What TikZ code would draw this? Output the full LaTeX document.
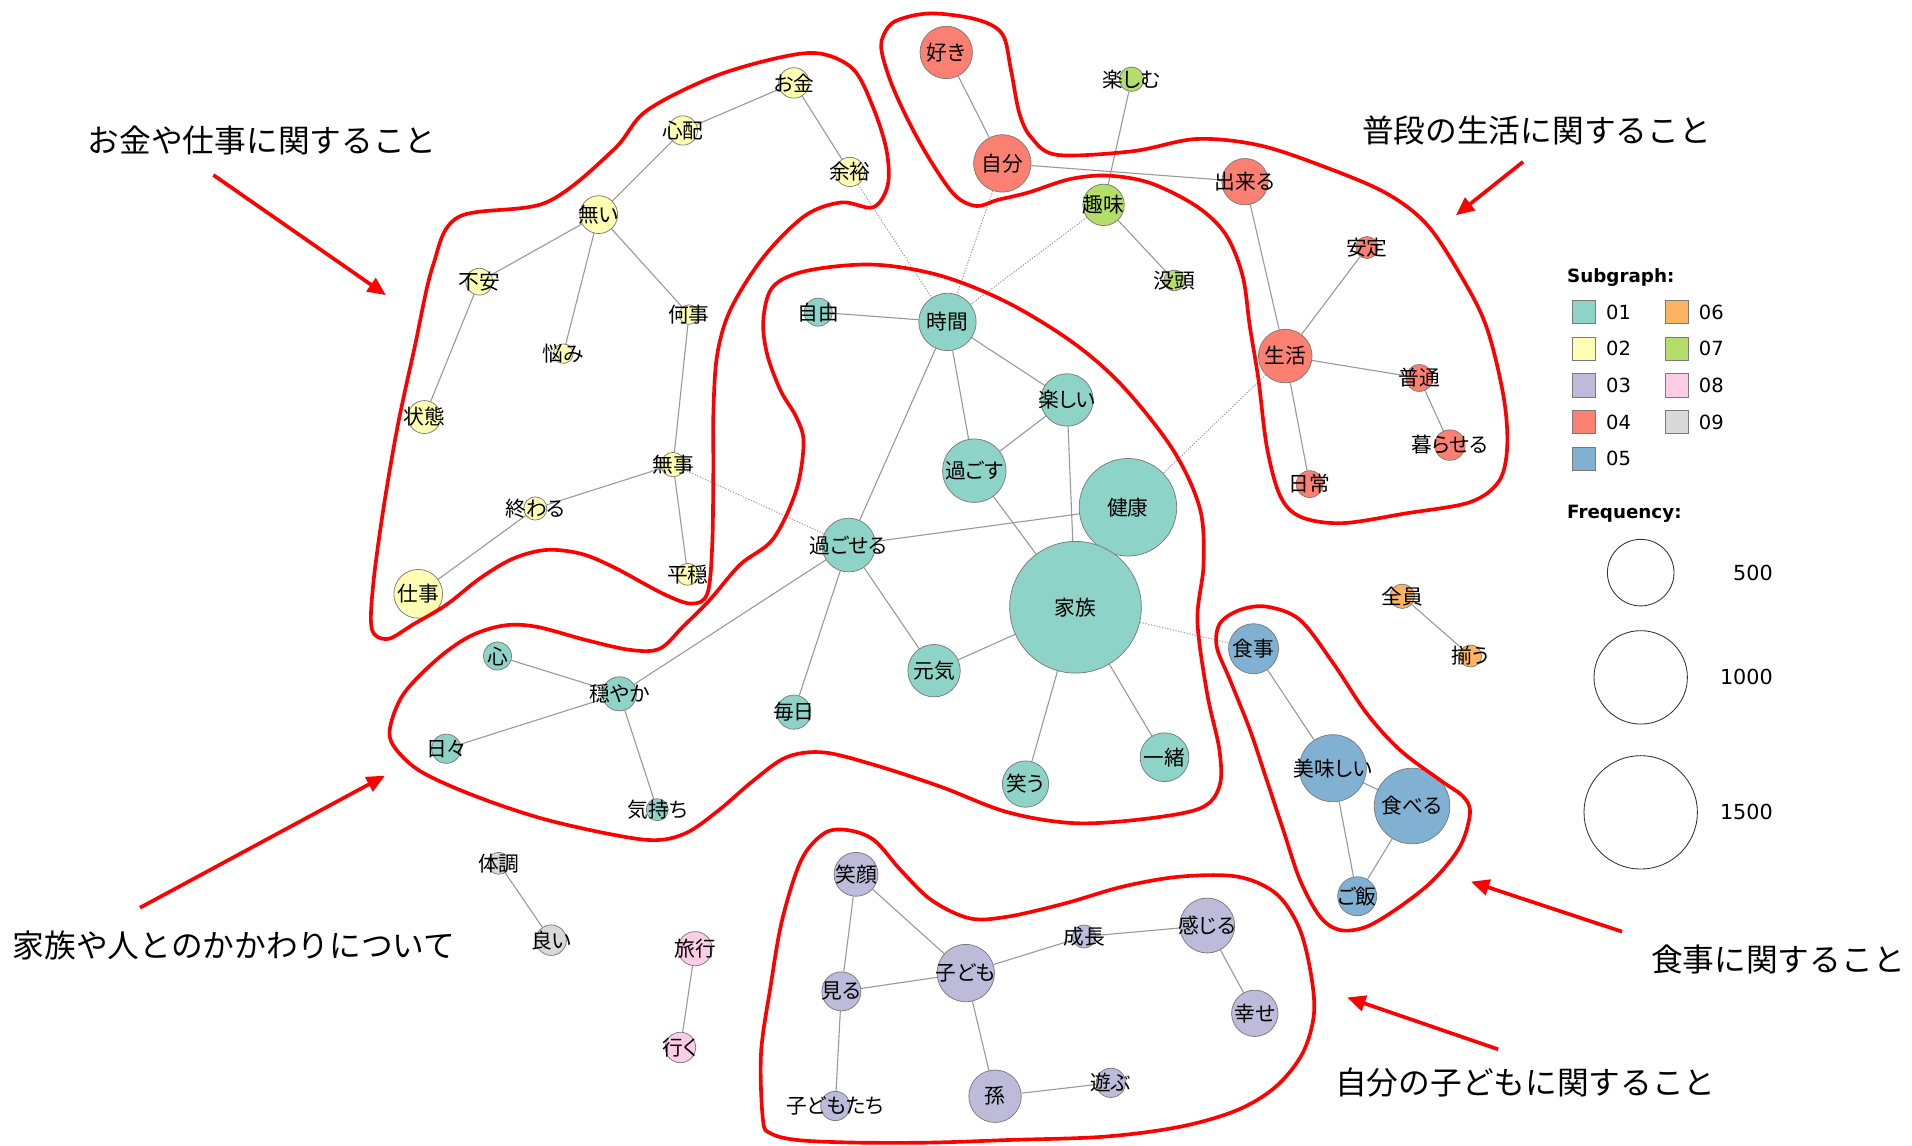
\documentclass[tikz,border=0pt]{standalone}
\usepackage{fontspec}
\setmainfont{Noto Sans CJK JP}
\newfontfamily\jpfont{Noto Sans CJK JP}
\newfontfamily\jplab[RawFeature=+palt]{Noto Sans CJK JP}
\newfontfamily\legfont{DejaVu Sans}
\usetikzlibrary{backgrounds,arrows.meta}
\definecolor{c01}{HTML}{8DD3C7}
\definecolor{c02}{HTML}{FFFFB3}
\definecolor{c03}{HTML}{BEBADA}
\definecolor{c04}{HTML}{FB8072}
\definecolor{c05}{HTML}{80B1D3}
\definecolor{c06}{HTML}{FDB462}
\definecolor{c07}{HTML}{B3DE69}
\definecolor{c08}{HTML}{FCCDE5}
\definecolor{c09}{HTML}{D9D9D9}
\definecolor{edgegray}{HTML}{999999}
\definecolor{rimgray}{HTML}{7A7A7A}
\definecolor{hred}{HTML}{FF0000}
\tikzset{
  kw/.style={circle, draw=rimgray, line width=0.6pt, inner sep=0pt},
  lb/.style={inner sep=0pt, text=black, font=\jplab\fontsize{17}{17}\selectfont},
  ed/.style={draw=edgegray, line width=0.9pt},
  dt/.style={draw=edgegray, line width=0.8pt, dash pattern=on 1pt off 1.3pt},
  blob/.style={draw=hred, line width=3pt, line join=round},
  arr/.style={draw=hred, line width=3pt, -{Triangle[length=15pt,width=13pt]}},
  anno/.style={inner sep=0pt, font=\jpfont\fontsize{26}{26}\selectfont},
  sq/.style={draw=rimgray, line width=0.6pt, minimum size=19pt, inner sep=0pt},
  lt/.style={inner sep=0pt, anchor=west, font=\legfont\fontsize{16}{16}\selectfont},
  lh/.style={inner sep=0pt, anchor=west, font=\legfont\bfseries\fontsize{15}{15}\selectfont},
  fq/.style={circle, draw=black!80, line width=0.7pt, inner sep=0pt},
  fn/.style={inner sep=0pt, anchor=east, font=\legfont\fontsize{17}{17}\selectfont}
}
\begin{document}
\begin{tikzpicture}[x=1pt,y=-1pt]
\useasboundingbox (0,0) rectangle (1568,939);
% ---------- nodes: 02 yellow
\node[kw,fill=c02,minimum size=25pt,label={[lb]center:お金}] (okane) at (651,68) {};
\node[kw,fill=c02,minimum size=24pt,label={[lb]center:心配}] (shinpai) at (560,107) {};
\node[kw,fill=c02,minimum size=24pt,label={[lb]center:余裕}] (yoyu) at (697,141) {};
\node[kw,fill=c02,minimum size=31pt,label={[lb]center:無い}] (nai) at (491,176) {};
\node[kw,fill=c02,minimum size=22pt,label={[lb]center:不安}] (fuan) at (393,231) {};
\node[kw,fill=c02,minimum size=16pt,label={[lb]center:悩み}] (nayami) at (462,290) {};
\node[kw,fill=c02,minimum size=16pt,label={[lb]center:何事}] (nanigoto) at (565,258) {};
\node[kw,fill=c02,minimum size=27pt,label={[lb]center:状態}] (jotai) at (348,342) {};
\node[kw,fill=c02,minimum size=20pt,label={[lb]center:無事}] (buji) at (552,381) {};
\node[kw,fill=c02,minimum size=19pt,label={[lb]center:終わる}] (owaru) at (439,417) {};
\node[kw,fill=c02,minimum size=18pt,label={[lb]center:平穏}] (heion) at (564,471) {};
\node[kw,fill=c02,minimum size=40pt,label={[lb]center:仕事}] (shigoto) at (343,487) {};
% ---------- 01 teal
\node[kw,fill=c01,minimum size=23pt,label={[lb]center:自由}] (jiyu) at (671,256) {};
\node[kw,fill=c01,minimum size=47pt,label={[lb]center:時間}] (jikan) at (777,264) {};
\node[kw,fill=c01,minimum size=43pt,label={[lb]center:楽しい}] (tanoshii) at (875,328) {};
\node[kw,fill=c01,minimum size=52pt,label={[lb]center:過ごす}] (sugosu) at (799,386) {};
\node[kw,fill=c01,minimum size=80pt,label={[lb]center:健康}] (kenko) at (925,416) {};
\node[kw,fill=c01,minimum size=44pt,label={[lb]center:過ごせる}] (sugoseru) at (696,447) {};
\node[kw,fill=c01,minimum size=108pt,label={[lb]center:家族}] (kazoku) at (882,498) {};
\node[kw,fill=c01,minimum size=43pt,label={[lb]center:元気}] (genki) at (766,550) {};
\node[kw,fill=c01,minimum size=28pt,label={[lb]center:毎日}] (mainichi) at (651,584) {};
\node[kw,fill=c01,minimum size=38pt,label={[lb]center:笑う}] (warau) at (841,643) {};
\node[kw,fill=c01,minimum size=40pt,label={[lb]center:一緒}] (issho) at (955,621) {};
\node[kw,fill=c01,minimum size=23pt,label={[lb]center:心}] (kokoro) at (408,538) {};
\node[kw,fill=c01,minimum size=28pt,label={[lb]center:穏やか}] (odayaka) at (508,569) {};
\node[kw,fill=c01,minimum size=24pt,label={[lb]center:日々}] (hibi) at (366,614) {};
\node[kw,fill=c01,minimum size=18pt,label={[lb]center:気持ち}] (kimochi) at (539,664) {};
% ---------- 04 red
\node[kw,fill=c04,minimum size=43pt,label={[lb]center:好き}] (suki) at (776,43) {};
\node[kw,fill=c04,minimum size=47pt,label={[lb]center:自分}] (jibun) at (822,134) {};
\node[kw,fill=c04,minimum size=38pt,label={[lb]center:出来る}] (dekiru) at (1021,149) {};
\node[kw,fill=c04,minimum size=18pt,label={[lb]center:安定}] (antei) at (1121,203) {};
\node[kw,fill=c04,minimum size=44pt,label={[lb]center:生活}] (seikatsu) at (1054,292) {};
\node[kw,fill=c04,minimum size=22pt,label={[lb]center:普通}] (futsu) at (1164,310) {};
\node[kw,fill=c04,minimum size=25pt,label={[lb]center:暮らせる}] (kuraseru) at (1189,365) {};
\node[kw,fill=c04,minimum size=22pt,label={[lb]center:日常}] (nichijo) at (1074,397) {};
% ---------- 07 green
\node[kw,fill=c07,minimum size=20pt,label={[lb]center:楽しむ}] (tanoshimu) at (928,65) {};
\node[kw,fill=c07,minimum size=34pt,label={[lb]center:趣味}] (shumi) at (905,168) {};
\node[kw,fill=c07,minimum size=17pt,label={[lb]center:没頭}] (botto) at (963,230) {};
% ---------- 05 blue
\node[kw,fill=c05,minimum size=41pt,label={[lb]center:食事}] (shokuji) at (1028,532) {};
\node[kw,fill=c05,minimum size=55pt,label={[lb]center:美味しい}] (oishii) at (1093,630) {};
\node[kw,fill=c05,minimum size=62pt,label={[lb]center:食べる}] (taberu) at (1158,661) {};
\node[kw,fill=c05,minimum size=32pt,label={[lb]center:ご飯}] (gohan) at (1113,735) {};
% ---------- 06 orange
\node[kw,fill=c06,minimum size=20pt,label={[lb]center:全員}] (zenin) at (1150,489) {};
\node[kw,fill=c06,minimum size=18pt,label={[lb]center:揃う}] (sorou) at (1206,538) {};
% ---------- 03 purple
\node[kw,fill=c03,minimum size=36pt,label={[lb]center:笑顔}] (egao) at (702,717) {};
\node[kw,fill=c03,minimum size=47pt,label={[lb]center:子ども}] (kodomo) at (792,798) {};
\node[kw,fill=c03,minimum size=19pt,label={[lb]center:成長}] (seicho) at (889,768) {};
\node[kw,fill=c03,minimum size=45pt,label={[lb]center:感じる}] (kanjiru) at (990,759) {};
\node[kw,fill=c03,minimum size=32pt,label={[lb]center:見る}] (miru) at (690,813) {};
\node[kw,fill=c03,minimum size=38pt,label={[lb]center:幸せ}] (shiawase) at (1029,831) {};
\node[kw,fill=c03,minimum size=43pt,label={[lb]center:孫}] (mago) at (816,899) {};
\node[kw,fill=c03,minimum size=24pt,label={[lb]center:遊ぶ}] (asobu) at (911,888) {};
\node[kw,fill=c03,minimum size=24pt,label={[lb]center:子どもたち}] (kodomotachi) at (685,907) {};
% ---------- 09 gray, 08 pink
\node[kw,fill=c09,minimum size=18pt,label={[lb]center:体調}] (taicho) at (409,708) {};
\node[kw,fill=c09,minimum size=25pt,label={[lb]center:良い}] (yoi) at (452,771) {};
\node[kw,fill=c08,minimum size=28pt,label={[lb]center:旅行}] (ryoko) at (570,778) {};
\node[kw,fill=c08,minimum size=25pt,label={[lb]center:行く}] (iku) at (558,859) {};
% ---------- edges behind nodes
\begin{scope}[on background layer]
\fill[white] (0,0) rectangle (1568,939);
\draw[ed] (okane) -- (shinpai);
\draw[ed] (okane) -- (yoyu);
\draw[ed] (shinpai) -- (nai);
\draw[ed] (nai) -- (fuan);
\draw[ed] (nai) -- (nayami);
\draw[ed] (nai) -- (nanigoto);
\draw[ed] (fuan) -- (jotai);
\draw[ed] (nanigoto) -- (buji);
\draw[ed] (buji) -- (owaru);
\draw[ed] (buji) -- (heion);
\draw[ed] (owaru) -- (shigoto);
\draw[ed] (jiyu) -- (jikan);
\draw[ed] (jikan) -- (tanoshii);
\draw[ed] (jikan) -- (sugosu);
\draw[ed] (jikan) -- (sugoseru);
\draw[ed] (tanoshii) -- (sugosu);
\draw[ed] (tanoshii) -- (kazoku);
\draw[ed] (sugosu) -- (kazoku);
\draw[ed] (sugoseru) -- (kenko);
\draw[ed] (sugoseru) -- (genki);
\draw[ed] (sugoseru) -- (mainichi);
\draw[ed] (sugoseru) -- (odayaka);
\draw[ed] (kazoku) -- (genki);
\draw[ed] (kazoku) -- (warau);
\draw[ed] (kazoku) -- (issho);
\draw[ed] (kokoro) -- (odayaka);
\draw[ed] (odayaka) -- (hibi);
\draw[ed] (odayaka) -- (kimochi);
\draw[ed] (suki) -- (jibun);
\draw[ed] (jibun) -- (dekiru);
\draw[ed] (dekiru) -- (seikatsu);
\draw[ed] (seikatsu) -- (antei);
\draw[ed] (seikatsu) -- (futsu);
\draw[ed] (futsu) -- (kuraseru);
\draw[ed] (seikatsu) -- (nichijo);
\draw[ed] (tanoshimu) -- (shumi);
\draw[ed] (shumi) -- (botto);
\draw[ed] (shokuji) -- (oishii);
\draw[ed] (oishii) -- (taberu);
\draw[ed] (oishii) -- (gohan);
\draw[ed] (taberu) -- (gohan);
\draw[ed] (zenin) -- (sorou);
\draw[ed] (egao) -- (miru);
\draw[ed] (egao) -- (kodomo);
\draw[ed] (miru) -- (kodomo);
\draw[ed] (miru) -- (kodomotachi);
\draw[ed] (kodomo) -- (seicho);
\draw[ed] (seicho) -- (kanjiru);
\draw[ed] (kanjiru) -- (shiawase);
\draw[ed] (kodomo) -- (mago);
\draw[ed] (mago) -- (asobu);
\draw[ed] (taicho) -- (yoi);
\draw[ed] (ryoko) -- (iku);
\draw[dt] (yoyu) -- (jikan);
\draw[dt] (jibun) -- (jikan);
\draw[dt] (shumi) -- (jikan);
\draw[dt] (buji) -- (sugoseru);
\draw[dt] (seikatsu) -- (kenko);
\draw[dt] (kazoku) -- (shokuji);
\end{scope}
% ---------- red outlines
\draw[blob] plot[smooth cycle, tension=0.55] coordinates {(376,178) (448,166) (503,123) (530,91) (585,63) (640,47) (673,44) (700,57) (716,88) (727,123) (728,152) (716,170) (690,166) (660,177) (626,211) (599,254) (588,292) (585,340) (585,386) (584,449) (580,487) (567,495) (544,487) (503,465) (476,454) (448,451) (421,458) (394,474) (366,496) (339,512) (318,524) (305,516) (306,480) (314,420) (326,350) (340,285) (355,218)};
\draw[blob] plot[smooth cycle, tension=0.55] coordinates {(634,235) (662,222) (716,217) (771,226) (826,248) (880,281) (921,317) (962,369) (984,417) (987,463) (982,509) (990,569) (1000,615) (1000,645) (984,663) (935,672) (880,675) (826,666) (771,645) (716,627) (675,617) (645,621) (618,640) (590,664) (563,683) (536,689) (495,683) (440,670) (385,651) (344,632) (323,612) (320,596) (331,569) (358,541) (385,522) (413,513) (440,514) (481,525) (517,533) (541,532) (560,514) (582,492) (607,463) (634,442) (653,402) (659,363) (653,342) (640,320) (629,290) (626,262)};
\draw[blob] plot[smooth cycle, tension=0.55] coordinates {(725,28) (735,17) (763,11) (801,16) (822,28) (829,57) (836,93) (846,113) (867,127) (929,124) (981,114) (1032,119) (1084,136) (1136,158) (1170,184) (1198,226) (1219,268) (1233,325) (1236,367) (1229,395) (1205,412) (1153,421) (1101,429) (1067,424) (1050,407) (1039,367) (1032,311) (1025,268) (1019,226) (1005,192) (981,169) (943,150) (908,144) (877,147) (843,158) (818,164) (801,169) (784,161) (767,138) (749,107) (732,71) (723,42)};
\draw[blob] plot[smooth cycle, tension=0.55] coordinates {(1000.5,511.2) (1016.9,500.2) (1038.8,497.5) (1066.1,508.4) (1093.4,544) (1120.8,585) (1148.1,615.1) (1180.9,639.7) (1200,653.3) (1205.5,667) (1197.3,694.3) (1175.4,721.7) (1148.1,743.5) (1120.8,759.9) (1098.9,762.7) (1082.5,751.7) (1066.1,721.7) (1052.4,680.7) (1038.8,639.7) (1025.1,598.7) (1008.7,557.6) (997.8,530.3)};
\draw[blob] plot[smooth cycle, tension=0.55] coordinates {(625.7,918.5) (624.1,863.8) (631.9,809.1) (641.4,754.5) (657.1,705.3) (675.9,683.4) (694.8,680.7) (716.7,688.9) (738.6,713.5) (763.8,738.1) (795.2,753.1) (826.6,751.7) (873.6,740.8) (920.7,727.1) (967.8,718.9) (1014.8,718.9) (1046.2,732.6) (1065,759.9) (1074.5,795.5) (1077.6,831) (1068.2,863.8) (1046.2,891.2) (1014.8,910.3) (967.8,924) (905,932.2) (826.6,934.9) (763.8,937) (701,937) (653.9,934.9) (631.9,929.4)};
% ---------- annotations
\node[anno] (t1) at (215,115) {お金や仕事に関すること};
\node[anno] (t2) at (1260,107) {普段の生活に関すること};
\node[anno] (t3) at (192,775) {家族や人とのかかわりについて};
\node[anno] (t4) at (1458,787) {食事に関すること};
\node[anno] (t5) at (1251,888) {自分の子どもに関すること};
\coordinate (a1s) at (175,143.5); \coordinate (a1e) at (316.5,242);
\coordinate (a2s) at (1249,132.7); \coordinate (a2e) at (1194,176.5);
\coordinate (a3s) at (114.8,744.4); \coordinate (a3e) at (315.7,636.1);
\coordinate (a4s) at (1330.2,764); \coordinate (a4e) at (1206.3,723);
\coordinate (a5s) at (1228.6,860.5); \coordinate (a5e) at (1104.8,818);
\draw[arr] (a1s) -- (a1e);
\draw[arr] (a2s) -- (a2e);
\draw[arr] (a3s) -- (a3e);
\draw[arr] (a4s) -- (a4e);
\draw[arr] (a5s) -- (a5e);
% ---------- legend
\node[lh] (subh) at (1285,228) {Subgraph:};
\node[sq,fill=c01] (s01) at (1299,256) {};
\node[sq,fill=c02] (s02) at (1299,286) {};
\node[sq,fill=c03] (s03) at (1299,316) {};
\node[sq,fill=c04] (s04) at (1299,346) {};
\node[sq,fill=c05] (s05) at (1299,376) {};
\node[sq,fill=c06] (s06) at (1375,256) {};
\node[sq,fill=c07] (s07) at (1375,286) {};
\node[sq,fill=c08] (s08) at (1375,316) {};
\node[sq,fill=c09] (s09) at (1375,346) {};
\node[lt] (n01) at (1317,256) {01};
\node[lt] (n02) at (1317,286) {02};
\node[lt] (n03) at (1317,316) {03};
\node[lt] (n04) at (1317,346) {04};
\node[lt] (n05) at (1317,376) {05};
\node[lt] (n06) at (1393,256) {06};
\node[lt] (n07) at (1393,286) {07};
\node[lt] (n08) at (1393,316) {08};
\node[lt] (n09) at (1393,346) {09};
\node[lh] (freqh) at (1285,421) {Frequency:};
\node[fq,minimum size=54.6pt] (f500) at (1345.5,469.6) {};
\node[fq,minimum size=76.6pt] (f1000) at (1345.5,555.5) {};
\node[fq,minimum size=93pt] (f1500) at (1345.5,666.2) {};
\node[fn] (v500) at (1454,470) {500};
\node[fn] (v1000) at (1454,555.5) {1000};
\node[fn] (v1500) at (1454,666) {1500};
\end{tikzpicture}
\end{document}
